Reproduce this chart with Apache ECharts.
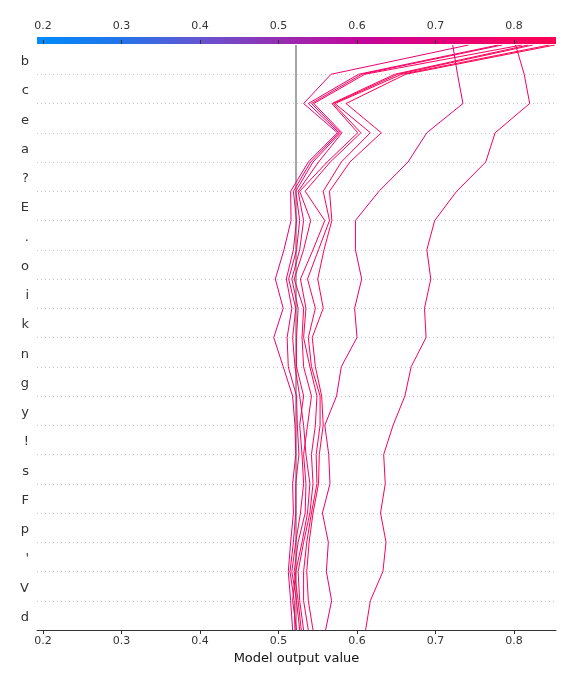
<!DOCTYPE html>
<html>
<head>
<meta charset="utf-8">
<script src="https://cdn.jsdelivr.net/npm/echarts@6/dist/echarts.min.js"></script>
<style>html,body{margin:0;padding:0;background:#fff}#c{width:576px;height:684px}</style>
</head>
<body>
<div id="c"></div>
<script>
// Features, bottom to top
const features = ["d","V","'","p","F","s","!","y","g","n","k","i","o",".","E","?","a","e","c","b"];
const tickValues = [0.2,0.3,0.4,0.5,0.6,0.7,0.8];
const baseValue = 0.5223;
const xMin = 0.1924, xMax = 0.8535;
// Each line: cumulative model output at levels 20 (top) down to 0 (bottom)
const lineA = [0.802,0.813,0.820,0.776,0.764,0.727,0.699,0.689,0.694,0.686,0.688,0.669,0.661,0.646,0.634,0.636,0.630,0.637,0.633,0.617,0.611];
const lineB = [0.722,0.728,0.735,0.689,0.665,0.628,0.598,0.598,0.606,0.597,0.600,0.580,0.574,0.559,0.564,0.5656,0.556,0.5635,0.561,0.5677,0.560];
const lineC1 = [0.742,0.567,0.532,0.575,0.538,0.5155,0.516,0.507,0.496,0.506,0.494,0.506,0.518,0.521,0.522,0.518,0.519,0.5155,0.5125,0.5155,0.518];
const lineC2 = [0.780,0.602,0.538,0.577,0.541,0.519,0.523,0.519,0.510,0.517,0.511,0.5125,0.523,0.524,0.526,0.522,0.522,0.519,0.5147,0.520,0.521];
const lineC3 = [0.785,0.606,0.542,0.579,0.544,0.522,0.527,0.523,0.513,0.522,0.518,0.521,0.527,0.532,0.535,0.540,0.537,0.530,0.522,0.518,0.523];
const lineC4 = [0.810,0.610,0.545,0.581,0.551,0.525,0.532,0.527,0.517,0.525,0.523,0.523,0.532,0.527,0.530,0.532,0.528,0.522,0.517,0.523,0.527];
const lineC5 = [0.818,0.648,0.568,0.601,0.562,0.527,0.541,0.532,0.520,0.532,0.530,0.532,0.542,0.537,0.532,0.535,0.534,0.525,0.520,0.525,0.529];
const lineC6 = [0.824,0.652,0.570,0.605,0.566,0.534,0.559,0.544,0.528,0.535,0.532,0.540,0.549,0.547,0.542,0.544,0.540,0.532,0.525,0.527,0.532];
const lineC7 = [0.845,0.657,0.572,0.617,0.580,0.557,0.565,0.551,0.537,0.547,0.538,0.542,0.553,0.553,0.548,0.549,0.542,0.536,0.532,0.532,0.538];
const lineC8 = [0.852,0.662,0.586,0.631,0.591,0.565,0.568,0.558,0.550,0.557,0.543,0.547,0.555,0.557,0.552,0.551,0.544,0.539,0.536,0.538,0.544];
const lines = [lineA, lineB, lineC1, lineC2, lineC3, lineC4, lineC5, lineC6, lineC7, lineC8];

const cmapStops = [
  [0.00, '#008bfb'],
  [0.16, '#2274ea'],
  [0.31, '#6356d2'],
  [0.46, '#9330b3'],
  [0.62, '#c2069b'],
  [0.77, '#e1007b'],
  [0.92, '#f70060'],
  [1.00, '#ff0052']
];
function hex2rgb(h){return [parseInt(h.substr(1,2),16),parseInt(h.substr(3,2),16),parseInt(h.substr(5,2),16)];}
function cmap(v){
  let t = (v - xMin)/(xMax - xMin); t = Math.max(0, Math.min(1, t));
  for (let i=1;i<cmapStops.length;i++){
    if (t <= cmapStops[i][0]){
      const a=cmapStops[i-1], b=cmapStops[i];
      const f=(t-a[0])/(b[0]-a[0]);
      const ca=hex2rgb(a[1]), cb=hex2rgb(b[1]);
      const c=ca.map((x,k)=>Math.round(x+(cb[k]-x)*f));
      return 'rgb('+c.join(',')+')';
    }
  }
  return cmapStops[cmapStops.length-1][1];
}

const nLev = features.length;
const series = [{
  type:'line', xAxisIndex:0, yAxisIndex:0, symbol:'none', silent:true, z:1,
  data:[[baseValue,0],[baseValue,nLev]],
  lineStyle:{color:'#a6a6a6', width:2}
}];
lines.forEach(arr=>{
  series.push({
    type:'line', xAxisIndex:0, yAxisIndex:0, symbol:'none', silent:true, z:3,
    data: arr.map((v,i)=>[v, nLev - i]),
    lineStyle:{color:cmap(arr[0]), width:1}
  });
});

const chart = echarts.init(document.getElementById('c'), null, {renderer:'canvas'});
const font = 'DejaVu Sans';
chart.setOption({
  animation:false,
  backgroundColor:'#fff',
  grid:[
    {left:37, right:20, top:45, bottom:54},
    {left:37, right:20, top:37, height:7, show:true, borderWidth:0,
     backgroundColor:{type:'linear',x:0,y:0,x2:1,y2:0,colorStops:cmapStops.map(s=>({offset:s[0],color:s[1]}))}}
  ],
  xAxis:[
    {gridIndex:0, type:'value', min:xMin, max:xMax, position:'bottom',
     name:'Model output value', nameLocation:'middle', nameGap:21,
     nameTextStyle:{fontFamily:font, fontSize:13, color:'#111'},
     axisLine:{show:true, onZero:false, lineStyle:{color:'#333', width:1}},
     axisTick:{show:true, length:4, customValues:tickValues, lineStyle:{color:'#333'}},
     axisLabel:{customValues:tickValues, formatter:v=>(Math.round(v*10)/10).toString(), fontFamily:font, fontSize:11, color:'#333', margin:6},
     splitLine:{show:false}},
    {gridIndex:1, type:'value', min:xMin, max:xMax, position:'top',
     axisLine:{show:false},
     axisTick:{show:true, length:4, customValues:tickValues, lineStyle:{color:'#333'}},
     axisLabel:{customValues:tickValues, formatter:v=>(Math.round(v*10)/10).toString(), fontFamily:font, fontSize:11, color:'#333', margin:5},
     splitLine:{show:false}}
  ],
  yAxis:[
    {gridIndex:0, type:'value', min:0, max:nLev, interval:1,
     axisLine:{show:false}, axisTick:{show:false}, axisLabel:{show:false},
     splitLine:{show:true, showMinLine:false, showMaxLine:false, lineStyle:{color:'#c8c8c8', type:[1,3], width:1}}},
    {gridIndex:0, type:'category', data:features, position:'left', boundaryGap:true,
     axisLine:{show:false}, axisTick:{show:false}, splitLine:{show:false},
     axisLabel:{fontFamily:font, fontSize:13, color:'#333', margin:8,
       formatter:v=>'{f|'+v+'}',
       rich:{f:{fontFamily:font, fontSize:13, color:'#333', padding:[4,0,0,0]}}}},
    {gridIndex:1, type:'value', show:false}
  ],
  series:series
});
</script>
</body>
</html>
